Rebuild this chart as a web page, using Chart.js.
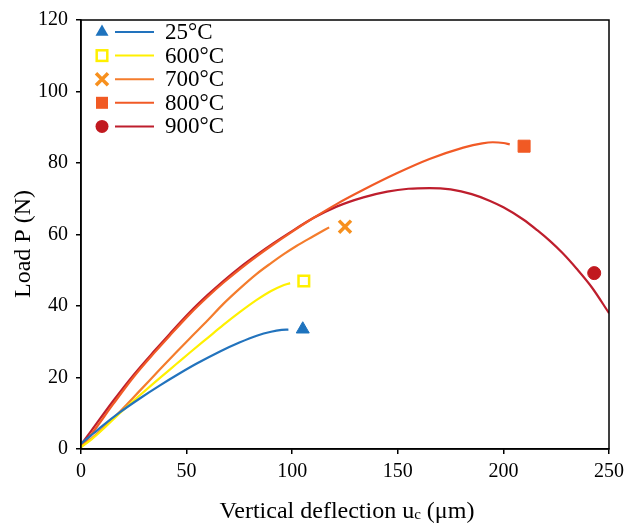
<!DOCTYPE html>
<html>
<head>
<meta charset="utf-8">
<script src="https://cdn.jsdelivr.net/npm/chart.js@4/dist/chart.umd.min.js"></script>
<style>
  body { margin: 0; background: #fff; }
  #wrap { width: 639px; height: 526px; }
</style>
</head>
<body>
<div id="wrap"><canvas id="loadChart" width="639" height="526"></canvas></div>
<script>
// curves: deflection (um) vs load (N)
var curveLabels = ["25°C", "600°C", "700°C", "800°C", "900°C"];

var x25 = [0, 3, 6, 10, 18.5, 28, 37.4, 46, 54.8, 65.8, 75, 83.2, 90, 95, 98.2];
var p25 = [1.5, 3, 4.4, 6.4, 10.3, 14.2, 17.8, 20.9, 23.9, 27.3, 29.8, 31.7, 32.8, 33.3, 33.4];

var x600 = [0, 5, 10, 18.5, 28, 37.4, 45, 51.6, 60, 67.4, 75, 83.2, 90, 95, 99];
var p600 = [0.5, 2.7, 5.3, 10.1, 15.1, 19.9, 23.7, 27, 31.1, 34.7, 38.2, 41.7, 44.2, 45.6, 46.4];

var x700 = [0, 5, 10, 18.5, 28, 37.4, 45, 51.6, 60, 67.4, 75, 83.2, 90, 96, 102, 110, 117.5];
var p700 = [0.8, 2.9, 5.6, 10.5, 16.4, 22.3, 27, 31, 36, 40.6, 44.8, 49, 52, 54.5, 56.8, 59.5, 62];

var x800 = [0, 5, 15.3, 25, 35, 42, 51.6, 60, 67.4, 75, 83.2, 91, 99, 110, 121, 133.7, 149.5, 165, 181, 190, 195, 200, 203];
var p800 = [0.5, 4.2, 12.6, 20.2, 27.1, 31.7, 37.8, 42.6, 46.5, 50.2, 53.9, 57.2, 60.4, 64.6, 68.5, 72.5, 77.1, 81.1, 84.3, 85.5, 85.8, 85.6, 85.2];

var x900 = [0, 5, 15.3, 25, 35, 42, 51.6, 60, 67.4, 75, 83.2, 91, 99, 110, 121, 133.7, 145, 155, 165, 175, 185, 193.7, 200, 209.4, 216, 222, 228, 234.7, 242, 250];
var p900 = [1.2, 5.2, 13.5, 20.8, 27.6, 32.2, 38.3, 43.1, 47, 50.7, 54.3, 57.5, 60.6, 64.6, 67.8, 70.4, 72, 72.8, 73, 72.6, 71.3, 69.4, 67.6, 64.2, 61.2, 58.2, 54.8, 50.4, 45.1, 38];

// failure markers
var failX = [105, 105.5, 125, 209.8, 243];
var failP = [33.5, 47, 62.2, 84.7, 49.2];

var xTicksMax = 250;
var yTicksMax = 120;

var lineColors = ["#2273BD", "#FFF000", "#F47C2C", "#F15A26", "#BE1E2D"];
var markColors = ["#1E73BE", "#FFF000", "#F7901E", "#F15A24", "#C1191F"];
var markStyles = ["triangle", "rectOpen", "crossRot", "rect", "circle"];

var fontFam = "'Liberation Serif', 'Times New Roman', serif";

function toPoints(xs, ys) {
    var pts = [];
    for (var i = 0; i < xs.length; i++) {
        pts.push({ x: xs[i], y: ys[i] });
    }
    return pts;
}

var curveX = [x25, x600, x700, x800, x900];
var curveP = [p25, p600, p700, p800, p900];
var datasets = [];

for (var i = 0; i < curveLabels.length; i++) {
    datasets.push({
        label: curveLabels[i],
        data: toPoints(curveX[i], curveP[i]),
        showLine: true,
        borderColor: lineColors[i],
        borderWidth: 2.2,
        pointRadius: 0,
        cubicInterpolationMode: "monotone",
        fill: false
    });
}

function markerOpts(i) {
    var s = markStyles[i];
    var o = {
        label: curveLabels[i] + " failure",
        data: [{ x: failX[i], y: failP[i] }],
        showLine: false,
        pointBackgroundColor: markColors[i],
        pointBorderColor: markColors[i],
        pointBorderWidth: 1
    };
    if (s == "triangle") { o.pointStyle = "triangle"; o.pointRadius = 7.5; }
    if (s == "rectOpen") { o.pointStyle = "rect"; o.pointRadius = 7.5; o.pointBackgroundColor = "#fff"; o.pointBorderWidth = 2.5; }
    if (s == "crossRot") { o.pointStyle = "crossRot"; o.pointRadius = 8.5; o.pointBorderWidth = 3.5; }
    if (s == "rect") { o.pointStyle = "rect"; o.pointRadius = 8.5; }
    if (s == "circle") { o.pointStyle = "circle"; o.pointRadius = 6.5; }
    return o;
}

for (var j = 0; j < curveLabels.length; j++) {
    datasets.push(markerOpts(j));
}

// small marker drawer for the hand-made legend
function drawMarker(ctx, style, x, y, color) {
    ctx.save();
    ctx.fillStyle = color;
    ctx.strokeStyle = color;
    if (style == "triangle") {
        var r = 7.5;
        ctx.beginPath();
        ctx.moveTo(x, y - r);
        ctx.lineTo(x + r * 0.866, y + r * 0.5);
        ctx.lineTo(x - r * 0.866, y + r * 0.5);
        ctx.closePath();
        ctx.fill();
    } else if (style == "rectOpen") {
        ctx.lineWidth = 2.5;
        ctx.fillStyle = "#fff";
        ctx.fillRect(x - 5.3, y - 5.3, 10.6, 10.6);
        ctx.strokeRect(x - 5.3, y - 5.3, 10.6, 10.6);
    } else if (style == "crossRot") {
        ctx.lineWidth = 3.5;
        ctx.beginPath();
        ctx.moveTo(x - 6, y - 6);
        ctx.lineTo(x + 6, y + 6);
        ctx.moveTo(x + 6, y - 6);
        ctx.lineTo(x - 6, y + 6);
        ctx.stroke();
    } else if (style == "rect") {
        ctx.fillRect(x - 6, y - 6, 12, 12);
    } else if (style == "circle") {
        ctx.beginPath();
        ctx.arc(x, y, 6.5, 0, Math.PI * 2);
        ctx.fill();
    }
    ctx.restore();
}

var framePlugin = {
    id: "frame",
    afterDraw: function (chart) {
        var ctx = chart.ctx;
        var a = chart.chartArea;
        ctx.save();
        // box round the plot
        ctx.strokeStyle = "#000";
        ctx.lineWidth = 1.5;
        ctx.strokeRect(a.left, a.top, a.right - a.left, a.bottom - a.top);

        // y title
        ctx.fillStyle = "#000";
        ctx.font = "24px " + fontFam;
        ctx.textAlign = "center";
        ctx.textBaseline = "middle";
        ctx.translate(24, 244);
        ctx.rotate(-Math.PI / 2);
        ctx.fillText("Load P (N)", 0, 0);
        ctx.restore();

        // x title with the small subscript c
        ctx.save();
        ctx.fillStyle = "#000";
        ctx.textBaseline = "alphabetic";
        ctx.textAlign = "left";
        var part1 = "Vertical deflection u";
        var sub = "c";
        var part2 = " (\u03bcm)";
        ctx.font = "24px " + fontFam;
        var w1 = ctx.measureText(part1).width;
        var w3 = ctx.measureText(part2).width;
        ctx.font = "15px " + fontFam;
        var w2 = ctx.measureText(sub).width;
        var startX = (a.left + a.right) / 2 - (w1 + w2 + w3) / 2 + 2;
        var baseY = 518;
        ctx.font = "24px " + fontFam;
        ctx.fillText(part1, startX, baseY);
        ctx.font = "15px " + fontFam;
        ctx.fillText(sub, startX + w1, baseY + 1);
        ctx.font = "24px " + fontFam;
        ctx.fillText(part2, startX + w1 + w2, baseY);
        ctx.restore();

        // legend: marker, line, label
        ctx.save();
        ctx.font = "23px " + fontFam;
        ctx.textBaseline = "middle";
        ctx.textAlign = "left";
        for (var k = 0; k < curveLabels.length; k++) {
            var ly = 32 + k * 23.6;
            drawMarker(ctx, markStyles[k], 102, ly, markColors[k]);
            ctx.strokeStyle = lineColors[k];
            ctx.lineWidth = 2;
            ctx.beginPath();
            ctx.moveTo(115, ly);
            ctx.lineTo(154, ly);
            ctx.stroke();
            ctx.fillStyle = "#000";
            ctx.fillText(curveLabels[k], 165, ly + 1);
        }
        ctx.restore();
    }
};

Chart.defaults.font.family = fontFam;
Chart.defaults.color = "#000";

var loadChart = new Chart(document.getElementById("loadChart"), {
    type: "scatter",
    data: { datasets: datasets },
    options: {
        responsive: false,
        animation: false,
        layout: { padding: { left: 0, top: 14, right: 30, bottom: 0 } },
        plugins: {
            legend: { display: false },
            tooltip: { enabled: false }
        },
        scales: {
            x: {
                type: "linear",
                min: 0,
                max: xTicksMax,
                ticks: { stepSize: 50, font: { size: 20 }, padding: 6, maxRotation: 0 },
                grid: { drawOnChartArea: false, tickLength: 5, color: "#000", lineWidth: 1.5 },
                border: { color: "#000", width: 1.5 },
                afterFit: function (scale) { scale.height = 77; }
            },
            y: {
                type: "linear",
                min: 0,
                max: yTicksMax,
                ticks: { stepSize: 20, font: { size: 20 }, padding: 8 },
                grid: { drawOnChartArea: false, tickLength: 5, color: "#000", lineWidth: 1.5 },
                border: { color: "#000", width: 1.5 },
                afterFit: function (scale) { scale.width = 81; }
            }
        }
    },
    plugins: [framePlugin]
});
</script>
</body>
</html>
